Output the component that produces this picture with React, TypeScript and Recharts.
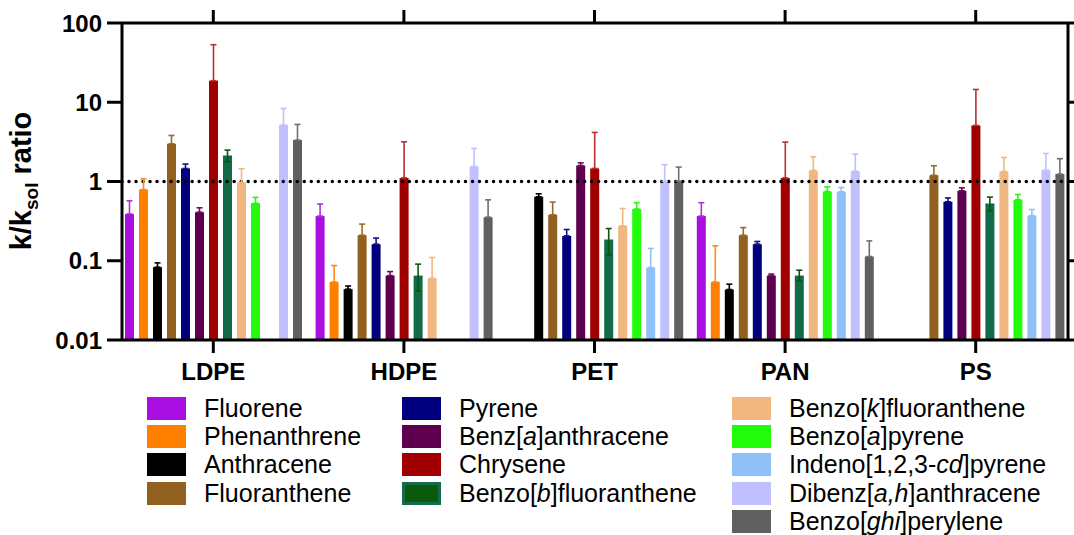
import React from 'react';
import { BarChart, Bar, XAxis, YAxis, ErrorBar, ReferenceLine } from 'recharts';

const GROUPS = ['LDPE', 'HDPE', 'PET', 'PAN', 'PS'];
const Y_TICKS = [0.01, 0.1, 1, 10, 100];

// mean k/ksol per polymer (null = not measured) and top of the error bar
const fluorene = [0.39, 0.366, null, 0.366, null];
const fluoreneHi = [0.57, 0.52, null, 0.54, null];
const phenanthrene = [0.79, 0.054, null, 0.054, null];
const phenanthreneHi = [1.08, 0.087, null, 0.154, null];
const anthracene = [0.083, 0.0438, 0.64, 0.0433, null];
const anthraceneHi = [0.094, 0.048, 0.7, 0.0506, null];
const fluoranthene = [2.99, 0.21, 0.38, 0.21, 1.2];
const fluorantheneHi = [3.81, 0.29, 0.55, 0.262, 1.58];
const pyrene = [1.46, 0.162, 0.206, 0.162, 0.555];
const pyreneHi = [1.66, 0.193, 0.248, 0.175, 0.62];
const benzAAnthracene = [0.41, 0.065, 1.59, 0.065, 0.763];
const benzAAnthraceneHi = [0.466, 0.073, 1.72, 0.068, 0.832];
const chrysene = [18.7, 1.11, 1.46, 1.11, 5.1];
const chryseneHi = [53.2, 3.17, 4.16, 3.14, 14.5];
const benzoBFluoranthene = [2.13, 0.065, 0.185, 0.065, 0.528];
const benzoBFluorantheneHi = [2.49, 0.0906, 0.255, 0.076, 0.635];
const benzoBFluorantheneLo = [1.77, 0.0417, 0.118, 0.0557, 0.427];
const benzoKFluoranthene = [0.97, 0.06, 0.276, 1.38, 1.34];
const benzoKFluorantheneHi = [1.45, 0.11, 0.456, 2.05, 2.01];
const benzoAPyrene = [0.53, null, 0.45, 0.748, 0.587];
const benzoAPyreneHi = [0.63, null, 0.54, 0.857, 0.686];
const indenoPyrene = [null, null, 0.082, 0.74, 0.372];
const indenoPyreneHi = [null, null, 0.143, 0.84, 0.443];
const dibenzAnthracene = [5.15, 1.55, 1.01, 1.35, 1.39];
const dibenzAnthraceneHi = [8.35, 2.61, 1.63, 2.22, 2.26];
const benzoGhiPerylene = [3.33, 0.355, 1.01, 0.113, 1.24];
const benzoGhiPeryleneHi = [5.25, 0.587, 1.52, 0.178, 1.94];

// *x* marks italic parts of the names
const SERIES_NAMES = [
  'Fluorene', 'Phenanthrene', 'Anthracene', 'Fluoranthene',
  'Pyrene', 'Benz[*a*]anthracene', 'Chrysene', 'Benzo[*b*]fluoranthene',
  'Benzo[*k*]fluoranthene', 'Benzo[*a*]pyrene', 'Indeno[1,2,3-*cd*]pyrene',
  'Dibenz[*a,h*]anthracene', 'Benzo[*ghi*]perylene',
];
const SERIES_COLORS = [
  '#a90fe0', '#ff8000', '#000000', '#92601f', '#00007e', '#5f004f', '#a00000',
  '#116b48', '#f0b880', '#22fb0c', '#90c0f8', '#c0c0ff', '#606060',
];
const ERROR_COLORS = [
  '#b030e0', '#ff8a1a', '#000000', '#9a6a2a', '#10108a', '#6a105a', '#b83030',
  '#0b560b', '#f0b880', '#30f020', '#90c0f8', '#c0c0ff', '#707070',
];

const MEANS = [
  fluorene, phenanthrene, anthracene, fluoranthene, pyrene, benzAAnthracene, chrysene,
  benzoBFluoranthene, benzoKFluoranthene, benzoAPyrene, indenoPyrene, dibenzAnthracene, benzoGhiPerylene,
];
const HIGHS = [
  fluoreneHi, phenanthreneHi, anthraceneHi, fluorantheneHi, pyreneHi, benzAAnthraceneHi, chryseneHi,
  benzoBFluorantheneHi, benzoKFluorantheneHi, benzoAPyreneHi, indenoPyreneHi, dibenzAnthraceneHi, benzoGhiPeryleneHi,
];
// only Benzo[b]fluoranthene shows its lower whisker
const LOWS = MEANS.map((m, si) => (si === 7 ? benzoBFluorantheneLo : m));

const LEGEND_COLUMNS = [[0, 1, 2, 3], [4, 5, 6, 7], [8, 9, 10, 11, 12]];
const LEGEND_X = [147, 402, 732];

const FONT = '"Liberation Sans", Arial, Helvetica, sans-serif';

const rows = GROUPS.map((g, gi) => {
  const row: Record<string, any> = { group: g };
  MEANS.forEach((m, si) => {
    const v = m[gi];
    row[`s${si}`] = v;
    row[`e${si}`] = v == null ? null : [v - (LOWS[si][gi] as number), (HIGHS[si][gi] as number) - v];
  });
  return row;
});

const renderName = (name: string) =>
  name.split('*').map((part, i) => (i % 2 ? <i key={i}>{part}</i> : <span key={i}>{part}</span>));

const axisStroke = { stroke: '#000', strokeWidth: 3 };
// keep the tick marks, drop the labels
const noLabel = { fill: 'transparent', fontSize: 1 };
const blank = () => '';

export default function App() {
  return (
    <div style={{ position: 'absolute', left: 0, top: 0, width: 1074, height: 535, background: '#fff', fontFamily: FONT }}>
      <BarChart
        width={1074}
        height={390}
        data={rows}
        margin={{ top: 10, right: 0, bottom: 0, left: 0 }}
        barGap={5}
        style={{ fontFamily: FONT }}
      >
        <XAxis
          xAxisId="bottom"
          dataKey="group"
          orientation="bottom"
          height={50}
          interval={0}
          tickSize={13}
          tickMargin={10}
          padding={{ left: -4, right: -3 }}
          axisLine={axisStroke}
          tickLine={axisStroke}
          tick={{ fill: '#000', fontSize: 24, fontWeight: 'bold' }}
        />
        <XAxis
          xAxisId="top"
          dataKey="group"
          orientation="top"
          height={13}
          interval={0}
          tickSize={13}
          padding={{ left: -4, right: -3 }}
          axisLine={axisStroke}
          tickLine={axisStroke}
          tick={noLabel}
          tickFormatter={blank}
        />
        <YAxis
          yAxisId="left"
          type="number"
          scale="log"
          domain={[0.01, 100]}
          allowDataOverflow
          ticks={Y_TICKS}
          interval={0}
          width={122}
          tickSize={15}
          tickMargin={5}
          axisLine={axisStroke}
          tickLine={axisStroke}
          tick={{ fill: '#000', fontSize: 24, fontWeight: 'bold' }}
          tickFormatter={(v: number) => String(v)}
        />
        <YAxis
          yAxisId="right"
          orientation="right"
          type="number"
          scale="log"
          domain={[0.01, 100]}
          allowDataOverflow
          ticks={Y_TICKS}
          interval={0}
          width={6}
          tickSize={6}
          axisLine={axisStroke}
          tickLine={axisStroke}
          tick={noLabel}
          tickFormatter={blank}
        />
        <ReferenceLine
          y={1}
          xAxisId="bottom"
          yAxisId="left"
          stroke="#000"
          strokeWidth={3.5}
          strokeDasharray="0.01 7"
          strokeLinecap="round"
        />
        {MEANS.map((_, si) => (
          <Bar
            key={si}
            dataKey={`s${si}`}
            xAxisId="bottom"
            yAxisId="left"
            fill={SERIES_COLORS[si]}
            barSize={9}
            isAnimationActive={false}
          >
            <ErrorBar
              dataKey={`e${si}`}
              direction="y"
              width={3}
              stroke={ERROR_COLORS[si]}
              strokeWidth={1.6}
              isAnimationActive={false}
            />
          </Bar>
        ))}
      </BarChart>

      {/* y axis title */}
      <div
        style={{
          position: 'absolute',
          left: 24,
          top: 181,
          transform: 'translate(-50%, -50%) rotate(-90deg)',
          fontSize: 29,
          fontWeight: 'bold',
          whiteSpace: 'nowrap',
          color: '#000',
        }}
      >
        k/k<sub style={{ fontSize: 19 }}>sol</sub> ratio
      </div>

      {/* legend */}
      {LEGEND_COLUMNS.map((col, ci) =>
        col.map((si, ri) => (
          <div
            key={si}
            style={{
              position: 'absolute',
              left: LEGEND_X[ci],
              top: 397 + ri * 28.2,
              height: 23,
              display: 'flex',
              alignItems: 'center',
              whiteSpace: 'nowrap',
            }}
          >
            <div
              style={{
                width: 39,
                height: 23,
                boxSizing: 'border-box',
                background: si === 7 ? '#0b5a0b' : SERIES_COLORS[si],
                border: si === 7 ? '3px solid #136c4a' : 'none',
                marginRight: 18,
              }}
            />
            <span style={{ fontSize: 25, color: '#000', lineHeight: '23px' }}>{renderName(SERIES_NAMES[si])}</span>
          </div>
        ))
      )}
    </div>
  );
}
